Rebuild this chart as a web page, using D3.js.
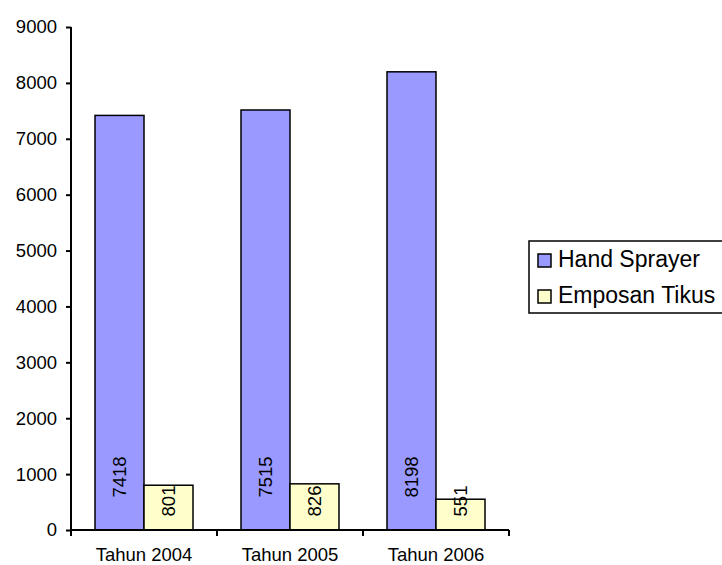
<!DOCTYPE html>
<html><head><meta charset="utf-8">
<script src="https://cdn.jsdelivr.net/npm/d3@7"></script>
<style>body{margin:0;background:#fff}svg{display:block}text{font-family:"Liberation Sans",Arial,sans-serif;fill:#000}</style>
</head><body>
<svg id="c" width="722" height="565"></svg>
<script>
const categories = ["Tahun 2004", "Tahun 2005", "Tahun 2006"];
const seriesNames = ["Hand Sprayer", "Emposan Tikus"];
const handSprayer = [7418, 7515, 8198];
const emposanTikus = [801, 826, 551];
const yTicks = [0, 1000, 2000, 3000, 4000, 5000, 6000, 7000, 8000, 9000];
const colors = ["#9999FF", "#FFFFCC"];
const seriesValues = [handSprayer, emposanTikus];

(function () {
const svg = d3.select("#c");
const pLeft = 71, pRight = 509, pTop = 27, pBottom = 530;

const y = d3.scaleLinear().domain([0, 9000]).range([pBottom, pTop]);
const x0 = d3.scaleBand().domain(categories).range([pLeft, pRight]).padding(0);
const x1 = d3.scaleBand().domain(seriesNames).range([0, x0.bandwidth()]).paddingInner(0).paddingOuter(0.49);

const g = svg.append("g");
categories.forEach((c, ci) => {
  seriesNames.forEach((s, si) => {
    const v = seriesValues[si][ci];
    g.append("rect")
      .attr("x", x0(c) + x1(s))
      .attr("y", y(v))
      .attr("width", x1.bandwidth())
      .attr("height", y(0) - y(v))
      .attr("fill", colors[si])
      .attr("stroke", "#000")
      .attr("stroke-width", 1.5);
  });
});

const labelLift = [53, 29];
categories.forEach((c, ci) => {
  seriesNames.forEach((s, si) => {
    const v = seriesValues[si][ci];
    const cx = x0(c) + x1(s) + x1.bandwidth() / 2;
    const cy = y(0) - labelLift[si];
    g.append("text")
      .attr("transform", `translate(${cx},${cy}) rotate(-90)`)
      .attr("text-anchor", "middle")
      .attr("dy", "0.35em")
      .style("font-size", "18.5px")
      .text(v);
  });
});

const yAxis = svg.append("g").attr("transform", `translate(${pLeft},0)`)
  .call(d3.axisLeft(y).tickValues(yTicks).tickSize(5).tickPadding(9).tickFormat(d3.format("d")));
yAxis.selectAll("text").style("font-size", "18.5px").style("font-family", "Liberation Sans, Arial, sans-serif").attr("fill", "#000");
yAxis.selectAll("line").attr("stroke", "#000").attr("stroke-width", 2);
yAxis.select(".domain").attr("stroke", "#000").attr("stroke-width", 2).attr("d", `M0,${pTop}V${pBottom}`);

const xAxis = svg.append("g").attr("transform", `translate(0,${pBottom})`);
xAxis.append("line").attr("x1", pLeft).attr("x2", pRight).attr("y1", 0).attr("y2", 0).attr("stroke", "#000").attr("stroke-width", 2);
const edges = categories.map(c => x0(c)).concat([pRight]);
xAxis.selectAll("line.tk").data(edges).enter().append("line").attr("class", "tk")
  .attr("x1", d => d).attr("x2", d => d).attr("y1", 0).attr("y2", 6).attr("stroke", "#000").attr("stroke-width", 2);
xAxis.selectAll("text.cat").data(categories).enter().append("text").attr("class", "cat")
  .attr("x", d => x0(d) + x0.bandwidth() / 2).attr("y", 31)
  .attr("text-anchor", "middle").style("font-size", "18.5px").text(d => d);

const lg = svg.append("g");
lg.append("rect").attr("x", 529).attr("y", 241).attr("width", 220).attr("height", 72)
  .attr("fill", "#fff").attr("stroke", "#000").attr("stroke-width", 1.5);
seriesNames.forEach((s, i) => {
  lg.append("rect").attr("x", 538).attr("y", 254 + i * 36).attr("width", 13).attr("height", 13)
    .attr("fill", colors[i]).attr("stroke", "#000").attr("stroke-width", 1.5);
  lg.append("text").attr("x", 558).attr("y", 267 + i * 36).style("font-size", "23px").text(s);
});
})();
</script>
</body></html>
